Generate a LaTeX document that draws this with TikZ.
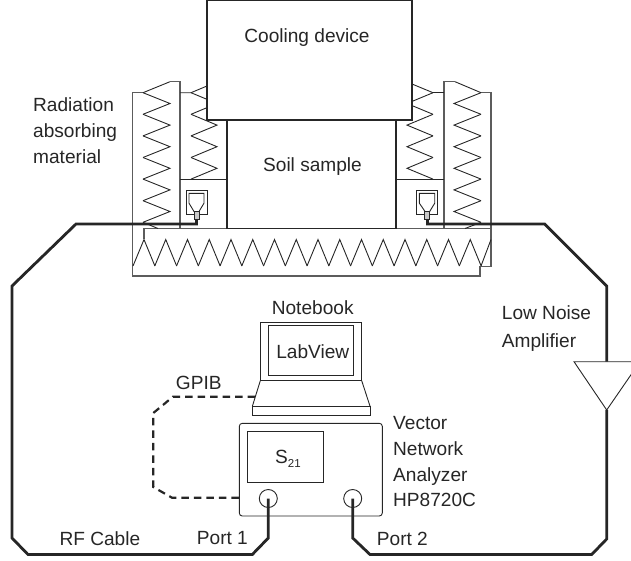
\documentclass[tikz,border=0pt]{standalone}
\usepackage{fontspec}
\setmainfont{Liberation Sans}
\usetikzlibrary{positioning}
\definecolor{ink}{HTML}{262626}
\tikzstyle{thin line} = [draw=ink,line width=0.9pt]
\tikzstyle{wall} = [draw=ink!75,line width=1.1pt]
\tikzstyle{box} = [draw=ink,line width=1.3pt,rectangle,fill=white,inner sep=0,outer sep=0]
\tikzstyle{smallbox} = [draw=ink,line width=0.9pt,rectangle,inner sep=0,outer sep=0]
\tikzstyle{port} = [draw=ink,line width=0.9pt,circle,inner sep=0,minimum size=18pt]
\tikzstyle{cable} = [draw=ink,line width=2.8pt,line join=miter]
\tikzstyle{gpib} = [draw=ink,line width=2.2pt,dash pattern=on 7.5pt off 5pt]
\tikzstyle{label} = [inner sep=0,anchor=base west,text=ink,font=\fontsize{19.1}{22}\selectfont]
\tikzstyle{labelmid} = [label,anchor=base]
\def \tooth {21.6}

\begin{document}
\begin{tikzpicture}[x=1pt,y=-1pt]
  \useasboundingbox (0,0) rectangle (631,560);
  \clip (0,0) rectangle (631,560);

  % absorber walls
  \draw[wall] (143,92.7) -- (132.7,92.7) -- (132.7,276) -- (480,276) -- (480,266.7) -- (491,266.7) -- (491,92.7) -- (481,92.7);
  \draw[thin line] (143,92.7) -- (170,81.7);
  \draw[wall] (170,81.7) -- (180,81.7) -- (180,228.5);
  \draw[thin line] (481,92.7) -- (455,81.7);
  \draw[wall] (455,81.7) -- (444,81.7) -- (444,228.5);
  \draw[wall] (144,239) -- (144,228.5) -- (491,228.5);
  \draw[thin line] (180,92.7) -- (191,92.7) -- (207,86);
  \draw[thin line] (433,92.7) -- (444,92.7);
  \draw[thin line] (433,92.7) -- (412,84);
  \draw[thin line] (180,179) -- (227,179);
  \draw[thin line] (396,179) -- (444,179);

  % absorber teeth
  \foreach \k in {0,...,5} {
    \draw[thin line] (143,92.7+\tooth*\k) -- (170,103.5+\tooth*\k) -- (143,114.3+\tooth*\k);
    \draw[thin line] (481,92.7+\tooth*\k) -- (454,103.5+\tooth*\k) -- (481,114.3+\tooth*\k);
  }
  \draw[thin line] (143,222.3) -- (158,228.5);
  \draw[thin line] (481,222.3) -- (465,228.5);
  \foreach \k in {0,...,3} {
    \draw[thin line] (191,92.7+\tooth*\k) -- (217,103.5+\tooth*\k) -- (191,114.3+\tooth*\k);
    \draw[thin line] (433,92.7+\tooth*\k) -- (407,103.5+\tooth*\k) -- (433,114.3+\tooth*\k);
  }
  \foreach \k in {0,...,15} {
    \draw[thin line] (133+21.75*\k,266) -- (144+21.75*\k,239.5) -- (154.9+21.75*\k,266);
  }
  \draw[thin line] (481,266) -- (491,239.5);

  % sample and cooling
  \node[box,minimum width=169pt,minimum height=108.5pt] (soil) at (311.5,174.25) {};
  \node[box,minimum width=205pt,minimum height=120pt] (cooling) at (309.5,60) {};
  \node[labelmid] (coolingtext) at (307,42.5) {Cooling device};
  \node[labelmid] (soiltext) at (312.5,171.5) {Soil sample};

  % antennas
  \node[smallbox,minimum width=21pt,minimum height=23.4pt] (antL) at (196.5,202.4) {};
  \node[smallbox,minimum width=20.6pt,minimum height=23.6pt] (antR) at (427,202.5) {};
  \draw[thin line] (189,193.4) -- (204,193.4) -- (204,203.2) -- (199,211.5) -- (194,211.5) -- (189,203.2) -- cycle;
  \draw[thin line] (419.4,193.4) -- (434.7,193.4) -- (434.7,203.2) -- (429.7,211.5) -- (425,211.5) -- (419.4,203.2) -- cycle;
  \node[smallbox,fill=ink!25,minimum width=5pt,minimum height=8pt] (feedL) at (196.5,215.7) {};
  \node[smallbox,fill=ink!25,minimum width=5pt,minimum height=8pt] (feedR) at (427.4,215.7) {};

  % notebook
  \node[smallbox,minimum width=101.4pt,minimum height=58.7pt] (lid) at (311,351.35) {};
  \node[smallbox,minimum width=85pt,minimum height=50.7pt] (screen) at (310.8,350.35) {};
  \node[smallbox,minimum width=117.7pt,minimum height=8.7pt] (keys) at (311.2,410.65) {};
  \draw[thin line] (lid.south west) -- (keys.north west);
  \draw[thin line] (lid.south east) -- (keys.north east);

  % analyzer
  \node[smallbox,rounded corners=3pt,minimum width=143pt,minimum height=92.7pt] (vna) at (310.8,469.65) {};
  \node[smallbox,minimum width=76pt,minimum height=50.6pt] (display) at (285.7,457) {};
  \node[port] (port1) at (268.3,498.5) {};
  \node[port] (port2) at (352.7,498.5) {};

  % amplifier
  \coordinate (amptop) at (606.7,361.7);
  \coordinate (amptip) at (606.7,410);
  \draw[thin line] (574,361.7) -- (640,361.7) -- (amptip) -- cycle;

  % cables
  \draw[cable] (port1.center) -- ++(0,39.5) -- ++(-16,16.5) -- (28,554.5) -- (12,538) -- (12,286) -- (76,224) -- (196.5,224) -- (feedL.south);
  \draw[cable] (port2.center) -- ++(0,39.5) -- ++(17.3,16.5) -- (591.7,554.5) -- (606.7,539) -- (amptip);
  \draw[cable] (amptop) -- (606.7,286) -- (544.7,224) -- (427.4,224) -- (feedR.south);

  % gpib
  \coordinate (gpibtop) at (255,396.7);
  \coordinate (gpibbot) at (239.3,497.7);
  \draw[gpib] (gpibtop) -- (173,396.7) -- (153.3,413) -- (153.3,487) -- (172,497.7) -- (gpibbot);

  % texts
  \node[label] (rad1) at (33,111) {Radiation};
  \node[label] (rad2) at (33,137) {absorbing};
  \node[label] (rad3) at (33,163) {material};
  \node[label] (low1) at (501.7,319.5) {Low Noise};
  \node[label] (low2) at (501.7,347) {Amplifier};
  \node[labelmid] (nbtext) at (312.7,314.5) {Notebook};
  \node[labelmid] (lvtext) at (312.8,358.5) {LabView};
  \node[label] (gpibtext) at (175.7,389.5) {GPIB};
  \node[label] (vna1) at (393,429.5) {Vector};
  \node[label] (vna2) at (393,455) {Network};
  \node[label] (vna3) at (393,481.5) {Analyzer};
  \node[label] (vna4) at (393,506.5) {HP8720C};
  \node[label] (s21) at (275,463.5) {S\raisebox{-4pt}{\fontsize{11.5}{12}\selectfont 21}};
  \node[label] (rftext) at (59.3,545.5) {RF Cable};
  \node[label] (p1text) at (196.7,544.5) {Port 1};
  \node[label] (p2text) at (376.7,545.5) {Port 2};
\end{tikzpicture}
\end{document}
